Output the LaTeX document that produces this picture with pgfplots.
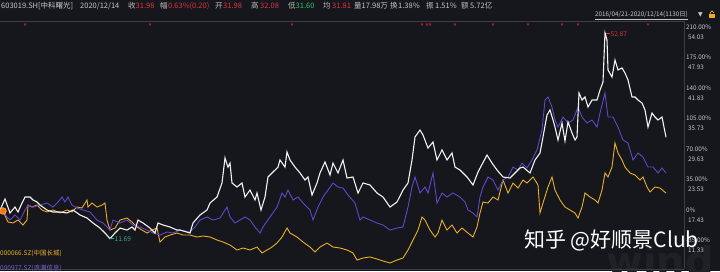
\documentclass[border=0pt]{standalone}
\usepackage{fontspec}
\setmainfont{Noto Sans CJK SC}
\newfontfamily\dejavu{DejaVu Sans}
\usepackage{pgfplots}
\pgfplotsset{compat=1.18}
\definecolor{bg}{RGB}{21,23,28}
\definecolor{wline}{RGB}{242,242,242}
\definecolor{pline}{RGB}{98,70,200}
\definecolor{yline}{RGB}{235,175,35}
\definecolor{lgray}{RGB}{200,200,200}
\definecolor{tgray}{RGB}{190,190,190}
\definecolor{vred}{RGB}{225,50,62}
\definecolor{vgreen}{RGB}{47,191,113}
\definecolor{teal2}{RGB}{40,180,140}
\definecolor{frame}{RGB}{60,62,70}
\definecolor{windgray}{RGB}{31,33,39}
\definecolor{mred}{RGB}{170,30,45}
\begin{document}
\begin{tikzpicture}[x=1pt,y=1pt]
\fill[bg] (0,0) rectangle (720,271);
\useasboundingbox (0,0) rectangle (720,271);
\node[anchor=base west, inner sep=0, text=windgray, font=\dejavu\bfseries\fontsize{40}{40}\selectfont] at (606,-4) {wind};
\begin{axis}[
  at={(0pt,2pt)}, anchor=south west,
  scale only axis, width=684pt, height=248pt,
  xmin=0, xmax=684, ymin=-67.7, ymax=216.9,
  clip=false,
  axis x line*=bottom, axis y line*=right,
  axis line style={-, draw=frame, line width=0.6pt},
  xtick=\empty,
  major tick length=0pt,
  ytick={210,175,140,105,70,35,0,-35},
  yticklabels={210.00\%,175.00\%,140.00\%,105.00\%,70.00\%,35.00\%,0\%,-35.00\%},
  extra y ticks={198.5,163.5,128.5,93.5,58.5,23.5,-11.5,-46.5},
  extra y tick labels={54.03,47.93,41.83,35.73,29.63,23.53,17.43,11.33},
  yticklabel style={font=\fontsize{6.3}{7}\selectfont, text=lgray, anchor=west, inner sep=0pt, xshift=2pt},
  extra y tick style={yticklabel style={font=\fontsize{6.3}{7}\selectfont, text=lgray, anchor=west, inner sep=0pt, xshift=2pt}},
]
\addplot[yline, line width=0.9pt] coordinates {
(0,0)(3,-1.1)(8,-13.8)(13,-14.9)(18,-11.5)(23,-17.2)(27,-11.5)(28,5.7)(32,3.4)(37,5.7)(42,0)(47,-2.3)(53,0)(60,-3.4)(67,0)(72,-2.3)(77,3.4)(82,2.3)(87,11.5)(88,3.4)(92,8)(97,3.4)(102,5.7)(105,8)(107,-11.5)(110,-23)(115,-20.7)(120,-11.5)(127,-9.2)(132,-13.8)(137,-19.5)(142,-23)(147,-26.4)(152,-23)(157,-20.7)(160,-36.7)(165,-31)(170,-28.7)(177,-26.4)(183,-28.7)(190,-28.7)(197,-31)(203,-29.8)(210,-31)(217,-34.4)(223,-36.7)(230,-40.2)(237,-45.9)(243,-43.6)(250,-45.9)(257,-42.5)(262,-49.3)(267,-45.9)(272,-42.5)(277,-37.9)(282,-31)(287,-20.7)(290,-26.4)(297,-31)(303,-36.7)(310,-42.5)(315,-48.2)(320,-42.5)(327,-37.9)(333,-42.5)(340,-43.6)(347,-45.9)(353,-49.3)(357,-57.4)(363,-55.1)(370,-53.9)(377,-56.2)(383,-58.5)(390,-60.8)(397,-57.4)(403,-55.1)(408,-45.9)(413,-34.4)(418,-23)(422,-8)(425,-11.5)(430,-23)(435,-31)(438,-26.4)(442,-11.5)(447,-23)(452,-17.2)(457,-26.4)(462,-20.7)(468,-26.4)(473,-31)(477,-19.5)(480,-3.4)(483,9.2)(488,8)(493,14.9)(498,11.5)(503,34.4)(508,19.5)(513,31)(518,25.2)(523,34.4)(527,31)(533,37.9)(538,28.7)(540,-3.4)(543,8)(548,26.4)(552,37.9)(555,22.9)(560,11.5)(565,3.4)(570,0)(575,-3.4)(578,-9.2)(582,3.4)(585,19.5)(590,14.9)(595,11.5)(598,8)(602,22.9)(605,42.5)(608,37.9)(612,49.3)(615,76.9)(618,65.4)(622,57.4)(625,49.3)(630,42.5)(635,40.2)(640,34.4)(643,37.9)(647,26.4)(650,20.7)(655,26.4)(660,25.2)(666,19.5)
};
\addplot[pline, line width=0.9pt] coordinates {
(0,0)(3,-1.1)(7,-8)(10,-11.5)(15,-5.7)(20,-11.5)(25,0)(28,5.7)(33,3.4)(40,5.7)(47,8)(53,3.4)(58,9.2)(62,14.9)(65,9.2)(68,14.9)(72,5.7)(77,2.3)(83,0)(90,-2.3)(97,-11.5)(103,-14.9)(110,-23)(113,-11.5)(120,-14.9)(127,-11.5)(133,-17.2)(140,-19.5)(147,-23)(153,-26.4)(160,-28.7)(167,-25.2)(173,-26.4)(180,-23)(190,-25.2)(195,-19.5)(200,-11.5)(207,-8)(213,-11.5)(220,-9.2)(227,3.4)(230,-8)(235,-14.9)(240,-11.5)(245,-8)(250,-11.5)(255,-19.5)(260,-26.4)(263,-19.5)(270,-8)(277,3.4)(282,19.5)(285,14.9)(288,22.9)(293,11.5)(298,14.9)(303,8)(310,0)(313,-11.5)(318,3.4)(323,14.9)(328,22.9)(333,31)(338,26.4)(343,25.2)(348,17.2)(355,8)(360,-11.5)(363,-8)(370,-11.5)(377,-14.9)(383,-17.2)(390,-23)(397,-20.7)(403,-19.5)(408,3.4)(412,26.4)(415,37.9)(420,19.5)(425,26.4)(428,19.5)(433,42.5)(437,8)(442,19.5)(447,14.9)(453,19.5)(460,14.9)(465,9.2)(468,0)(473,-3.4)(477,-8)(480,14.9)(483,26.4)(488,37.9)(493,34.4)(498,22.9)(503,34.4)(508,37.9)(513,49.3)(518,45.9)(522,53.9)(527,48.2)(532,57.4)(537,68.9)(542,91.8)(545,126.2)(548,129.7)(552,118.2)(555,103.3)(558,95.2)(563,106.7)(568,99.8)(573,103.3)(578,118.2)(582,106.7)(587,99.8)(592,103.3)(597,95.2)(600,111.3)(605,134.3)(608,106.7)(613,106.7)(618,95.2)(623,80.3)(628,76.9)(633,57.4)(638,65.4)(643,60.8)(648,49.3)(653,49.3)(658,42.5)(662,48.2)(666,42.5)
};
\addplot[wline, line width=1.1pt] coordinates {
(0,0)(5,12.6)(10,-3.4)(15,3.4)(18,-2.3)(22,8)(25,14.9)(30,14.9)(33,11.5)(37,9.2)(40,5.7)(47,0)(53,-2.3)(60,-2.3)(67,-3.4)(73,0)(80,-5.7)(87,-9.2)(93,-14.9)(100,-20.7)(105,-26.4)(110,-32.9)(115,-26.4)(120,-20.7)(127,-23)(132,-19.5)(135,-23)(138,-11.5)(143,-14.9)(150,-20.7)(155,-26.4)(158,-14.9)(163,-17.2)(170,-19.5)(177,-23)(180,-23)(190,-26.4)(193,-14.9)(200,-5.7)(207,0)(210,8)(217,14.9)(222,31)(225,59.7)(228,49.3)(230,53.9)(232,31)(237,26.4)(242,31)(245,14.9)(250,22.9)(255,11.5)(257,19.5)(261,0)(265,14.9)(268,37.9)(273,43.6)(278,49.3)(280,57.4)(285,49.3)(287,66.6)(290,57.4)(295,49.3)(300,42.5)(305,34.4)(308,37.9)(312,17.2)(317,31)(320,42.5)(325,55.1)(330,40.2)(333,53.9)(338,42.5)(343,57.4)(347,36.7)(353,37.9)(358,19.5)(363,31)(370,28.7)(377,19.5)(383,14.9)(390,3.4)(397,9.2)(403,22.9)(408,31)(412,57.4)(415,83.8)(420,91.8)(423,86.1)(428,71.1)(433,78)(437,57.4)(442,68.9)(447,57.4)(452,65.4)(455,49.3)(460,45.9)(467,37.9)(473,28.7)(478,43.6)(487,63.1)(492,53.9)(497,45.9)(503,37.9)(510,36.7)(515,42.5)(520,48.2)(523,49.3)(530,42.5)(535,57.4)(540,65.4)(543,83.8)(547,109)(550,114.8)(553,103.3)(555,95.2)(558,80.3)(562,99.8)(565,79.2)(568,101)(572,88.4)(575,80.3)(577,83.8)(579,134.3)(582,126.2)(585,129.7)(588,118.2)(592,126.2)(597,126.2)(600,137.7)(603,146.9)(605,203.3)(607,195.1)(608,160.7)(612,152.6)(615,172.1)(618,160.7)(622,163)(625,157.2)(628,149.2)(632,129.7)(635,129.7)(638,126.2)(642,122.8)(645,114.8)(648,95.2)(652,111.3)(655,106.7)(658,103.3)(662,106.7)(666,83.5)
};
\addplot[only marks, mark=*, mark size=3.3pt, mark options={fill=orange!90!red, draw=orange!60!white, line width=0.6pt}] coordinates {(3,-1.1)};
\addplot[only marks, mark=triangle*, mark size=1.3pt, mark options={rotate=180, fill=mred, draw=mred}] coordinates {(25,213)(150,213)(292,213)(422,213)(427,213)(430,213)(455,213)(493,213)(528,213)(562,213)(578,213)(648,213)};
\draw[vred, line width=0.5pt] (axis cs:606,203.3) -- (axis cs:610,203.3);
\node[anchor=west, inner sep=0.5pt, text=vred, font=\fontsize{6.5}{7}\selectfont] at (axis cs:610,202) {52.87};
\draw[teal2, line width=0.5pt] (axis cs:110,-32.9) -- (axis cs:114,-32.9);
\node[anchor=west, inner sep=0.5pt, text=teal2, font=\fontsize{6.5}{7}\selectfont] at (axis cs:114,-33.5) {11.69};
\end{axis}
\draw[frame, line width=0.6pt] (0,250) -- (684,250);
% top bar
\begin{scope}[every node/.style={anchor=west, inner sep=0pt, font=\fontsize{7.5}{8}\selectfont}]
\node[text=lgray] at (1,265) {603019.SH[中科曙光]};
\node[text=lgray] at (80,265) {2020/12/14};
\node[text=tgray] at (128,265) {收};
\node[text=vred] at (135.5,265) {31.98};
\node[text=tgray] at (160,265) {幅};
\node[text=vred] at (168,265) {0.63\%(0.20)};
\node[text=tgray] at (215,265) {开};
\node[text=vred] at (223,265) {31.98};
\node[text=tgray] at (251,265) {高};
\node[text=vred] at (260,265) {32.08};
\node[text=tgray] at (288,265) {低};
\node[text=vgreen] at (295.5,265) {31.60};
\node[text=tgray] at (323,265) {均};
\node[text=vred] at (332,265) {31.81};
\node[text=tgray] at (354,265) {量};
\node[text=lgray] at (361.5,265) {17.98万};
\node[text=tgray] at (390,265) {换};
\node[text=lgray] at (398,265) {1.38\%};
\node[text=tgray] at (426,265) {振};
\node[text=lgray] at (435,265) {1.51\%};
\node[text=tgray] at (461,265) {额};
\node[text=lgray] at (470,265) {5.72亿};
\end{scope}
\node[anchor=west, inner sep=0pt, text=lgray, font=\fontsize{6.3}{7}\selectfont] (dr) at (595,256) {2016/04/21-2020/12/14(1130日)};
\draw[lgray, line width=0.4pt] (dr.south west) ++(0,-0.5) -- ([yshift=-0.5pt]dr.south east);
\node[anchor=west, inner sep=0pt, text=lgray, font=\dejavu\fontsize{6}{6}\selectfont] at (698,256) {▼};
\fill[yline] (709,252.5) rectangle (715,257);
\draw[yline, line width=0.7pt] (710.3,257) -- (710.3,258.5) arc (180:0:1.7) -- (713.7,258);
% legends
\node[anchor=west, inner sep=0pt, text=yline, font=\fontsize{6.5}{7}\selectfont] at (0,17.5) {000066.SZ(中国长城)};
\node[anchor=west, inner sep=0pt, text=pline!85!white, font=\fontsize{6.5}{7}\selectfont] at (0,3) {000977.SZ(浪潮信息)};
% watermark
\node[anchor=west, inner sep=0pt, text=white, font=\fontsize{21}{21}\selectfont] at (524,31) {知乎 @好顺景Club};
\end{tikzpicture}
\end{document}
